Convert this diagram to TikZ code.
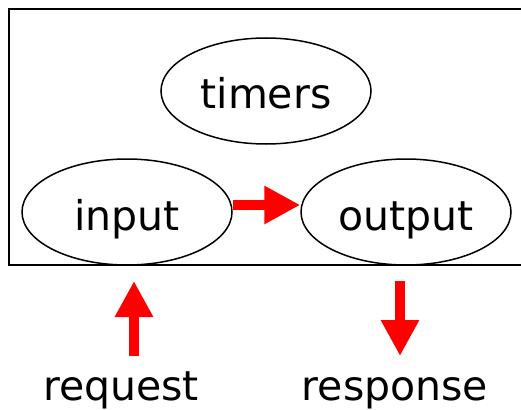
\documentclass[tikz,border=0pt]{standalone}
\usepackage{fontspec}
\setmainfont{DejaVu Sans}
\usetikzlibrary{shapes.geometric,arrows.meta}
\tikzset{
  proc/.style={draw, ellipse, line width=1.5pt, minimum width=210pt, minimum height=106pt, inner sep=0pt,
    font=\fontsize{41}{48}\selectfont, text height=36pt, text depth=0pt},
  lbl/.style={font=\fontsize{41}{48}\selectfont, anchor=base, inner sep=0pt},
  flow/.style={draw=red, line width=10.5pt, -{Triangle[length=36pt,width=36pt]}, red},
  frame/.style={draw, line width=2pt}
}
\begin{document}
\begin{tikzpicture}[x=1pt,y=-1pt]
\useasboundingbox (0,0) rectangle (521,409);
\clip (0,0) rectangle (521,409);
\draw[frame] (9,9) rectangle (540,264.5);
\node[proc] (timers) at (266,91) {timers};
\node[proc] (input) at (127,212) {input};
\node[proc] (output) at (406,212) {output};
\draw[flow] ([yshift=7pt]input.east) -- ([yshift=7pt]output.west);
\node[lbl] (request) at (121,400) {request};
\node[lbl] (response) at (395,400) {response};
\coordinate (reqS) at (134,356);
\coordinate (reqE) at (134,281);
\coordinate (resS) at (400,281);
\coordinate (resE) at (400,356);
\draw[flow] (reqS) -- (reqE);
\draw[flow] (resS) -- (resE);
\end{tikzpicture}
\end{document}
